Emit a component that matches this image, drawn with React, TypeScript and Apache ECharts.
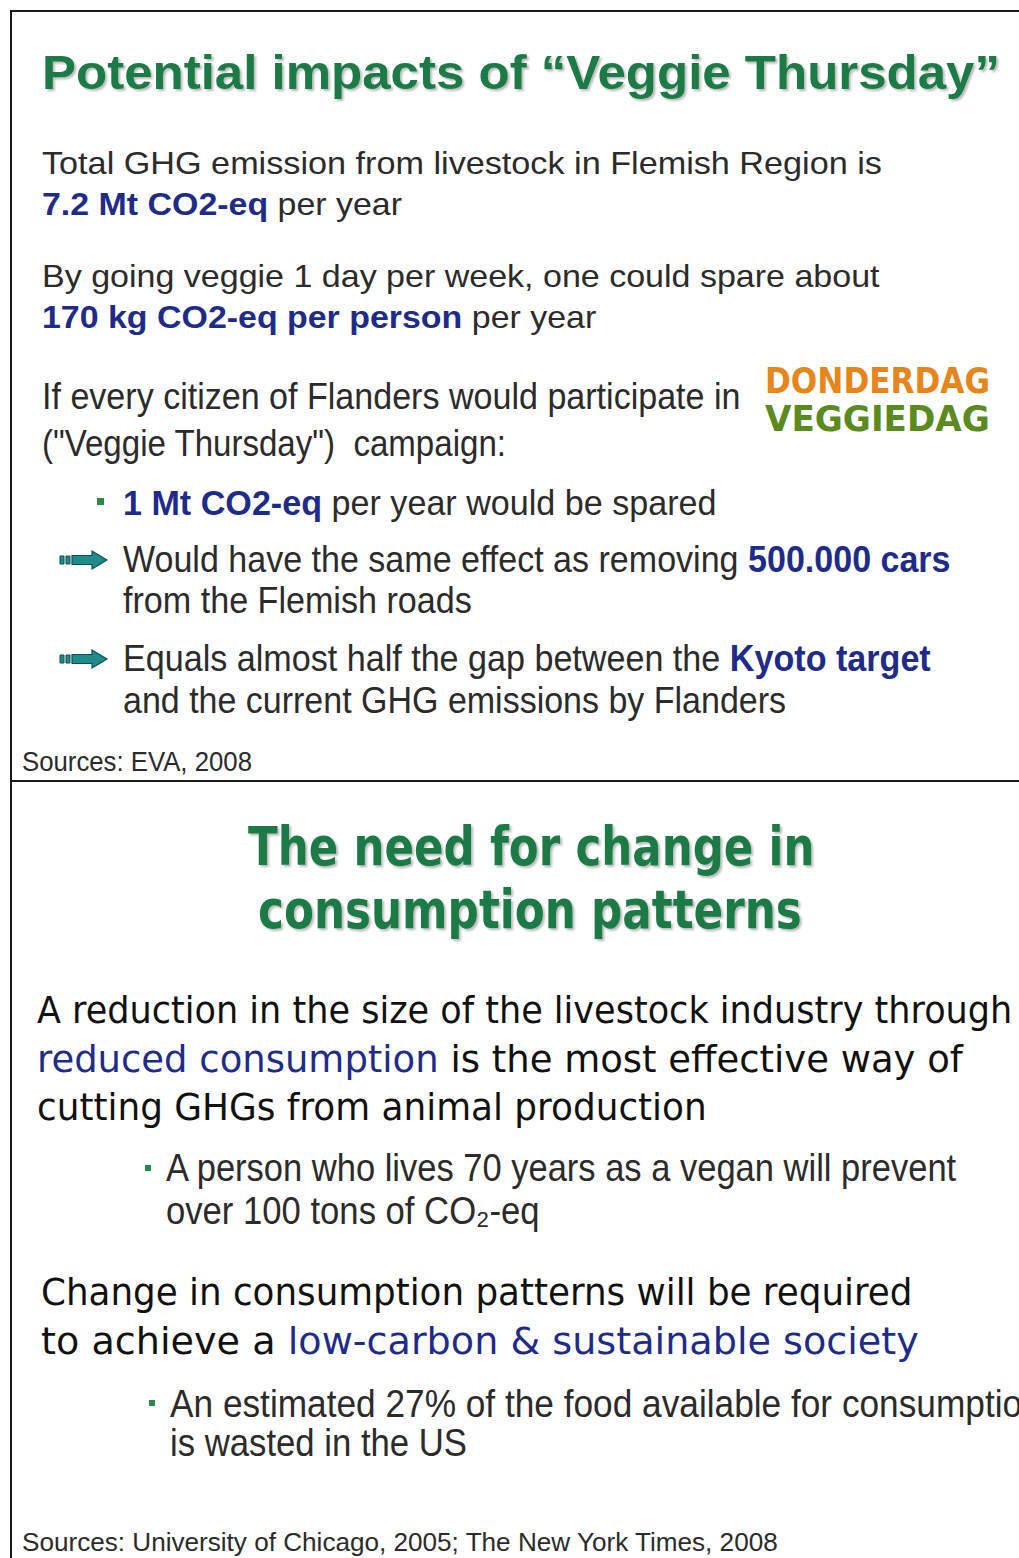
import React, { useEffect, useRef } from "react";
import * as echarts from "echarts";

const W = 1019;
const H = 1558;

const ARIAL = "'Liberation Sans', Arial, sans-serif";
const TAHOMA = "'DejaVu Sans', Verdana, sans-serif";

const GREEN = "#1d7a46";
const NAVY = "#1f2b88";
const GRAY = "#2b2b2b";
const BLACK = "#111111";

type Seg = [string, string];
interface Line {
  segs: Seg[];
  x: number;
  y: number;
  w: number;
  size: number;
  font: string;
  fit?: string;
  shadow?: boolean;
}

const STY: Record<string, { weight: string; fill: string }> = {
  t: { weight: "normal", fill: GRAY },
  b: { weight: "bold", fill: NAVY },
  k: { weight: "normal", fill: BLACK },
  n: { weight: "normal", fill: NAVY },
  g: { weight: "bold", fill: GREEN },
  o: { weight: "bold", fill: "#e5851a" },
  v: { weight: "bold", fill: "#5b8a1f" },
};

// ---- Top slide texts ----
const topTitle: Line[] = [
  { segs: [["Potential impacts of “Veggie Thursday”", "g"]], x: 42, y: 72, w: 958, size: 48, font: ARIAL, shadow: true },
];

const topBody: Line[] = [
  { segs: [["Total GHG emission from livestock in Flemish Region is", "t"]], x: 42, y: 163, w: 840, size: 32, font: ARIAL },
  { segs: [["7.2 Mt CO2-eq", "b"], [" per year", "t"]], x: 42, y: 204, w: 360, size: 32, font: ARIAL },
  { segs: [["By going veggie 1 day per week, one could spare about", "t"]], x: 42, y: 276, w: 838, size: 32, font: ARIAL },
  { segs: [["170 kg CO2-eq per person", "b"], [" per year", "t"]], x: 42, y: 317, w: 554, size: 32, font: ARIAL },
  { segs: [["If every citizen of Flanders would participate in", "t"]], x: 42, y: 397, w: 699, size: 37, font: ARIAL },
  { segs: [["(\"Veggie Thursday\")  campaign:", "t"]], x: 42, y: 443, w: 465, size: 37, font: ARIAL },
  { segs: [["1 Mt CO2-eq", "b"], [" per year would be spared", "t"]], x: 123, y: 502, w: 594, size: 36, font: ARIAL },
  { segs: [["Would have the same effect as removing ", "t"], ["500.000 cars", "b"]], x: 123, y: 560, w: 828, size: 37, font: ARIAL },
  { segs: [["from the Flemish roads", "t"]], x: 123, y: 601, w: 349, size: 37, font: ARIAL },
  { segs: [["Equals almost half the gap between the ", "t"], ["Kyoto target", "b"]], x: 123, y: 659, w: 808, size: 37, font: ARIAL },
  { segs: [["and the current GHG emissions by Flanders", "t"]], x: 123, y: 701, w: 663, size: 37, font: ARIAL },
  { segs: [["Sources: EVA, 2008", "t"]], x: 22, y: 762, w: 230, size: 27, font: ARIAL },
];

const logoLines: Line[] = [
  { segs: [["DONDERDAG", "o"]], x: 765, y: 381, w: 225, size: 35, font: TAHOMA },
  { segs: [["VEGGIEDAG", "v"]], x: 765, y: 419, w: 225, size: 35, font: TAHOMA },
];

const topBullets = [{ x: 97, y: 498, s: 7 }];
const topArrows = [{ x: 60, y: 560 }, { x: 60, y: 659 }];

// ---- Bottom slide texts ----
const bottomTitle: Line[] = [
  { segs: [["The need for change in", "g"]], x: 248, y: 846, w: 567, size: 54, font: TAHOMA, shadow: true },
  { segs: [["consumption patterns", "g"]], x: 258, y: 909, w: 544, size: 54, font: TAHOMA, shadow: true },
];

const bottomBody: Line[] = [
  { segs: [["A reduction in the size of the livestock industry through", "k"]], x: 37, y: 1010, w: 976, size: 38, font: TAHOMA },
  { segs: [["reduced consumption", "n"], [" is the most effective way of", "k"]], x: 37, y: 1059, w: 926, size: 38, font: TAHOMA },
  { segs: [["cutting GHGs from animal production", "k"]], x: 37, y: 1107, w: 670, size: 38, font: TAHOMA },
  { segs: [["A person who lives 70 years as a vegan will prevent", "t"]], x: 166, y: 1168, w: 792, size: 39, font: ARIAL },
  { segs: [["over 100 tons of CO₂-eq", "t"]], x: 166, y: 1211, w: 374, size: 39, font: ARIAL },
  { segs: [["Change in consumption patterns will be required", "k"]], x: 41, y: 1292, w: 872, size: 38, font: TAHOMA },
  { segs: [["to achieve a ", "k"], ["low-carbon & sustainable society", "n"]], x: 41, y: 1341, w: 878, size: 38, font: TAHOMA },
  { segs: [["An estimated 27% of the food available for consumption", "t"]], x: 170, y: 1403, w: 853, size: 39, font: ARIAL, fit: "An estimated 27% of the food available for consumptio" },
  { segs: [["is wasted in the US", "t"]], x: 170, y: 1443, w: 297, size: 39, font: ARIAL },
  { segs: [["Sources: University of Chicago, 2005; The New York Times, 2008", "t"]], x: 22, y: 1542, w: 758, size: 26, font: ARIAL },
];

const bottomBullets = [{ x: 145, y: 1165, s: 6 }, { x: 149, y: 1400, s: 6 }];

let ctx: CanvasRenderingContext2D | null = null;
function measure(segs: Seg[], size: number, font: string): number {
  if (!ctx) ctx = document.createElement("canvas").getContext("2d");
  let w = 0;
  for (const [s, k] of segs) {
    ctx!.font = `${STY[k].weight} ${size}px ${font}`;
    w += ctx!.measureText(s).width;
  }
  return w;
}

function textEl(line: Line): any {
  const m = line.fit ? measure([[line.fit, line.segs[0][1]]], line.size, line.font) : measure(line.segs, line.size, line.font);
  const sx = line.w / m;
  const rich: Record<string, any> = {};
  let text = "";
  for (const [s, k] of line.segs) {
    text += `{${k}|${s}}`;
    rich[k] = {
      fontSize: line.size,
      fontFamily: line.font,
      fontWeight: STY[k].weight,
      fill: STY[k].fill,
      ...(line.shadow
        ? { textShadowColor: "rgba(0,0,0,0.28)", textShadowBlur: 2, textShadowOffsetX: 2, textShadowOffsetY: 2 }
        : {}),
    };
  }
  return {
    type: "text",
    x: line.x,
    y: line.y,
    scaleX: sx,
    silent: true,
    style: {
      text,
      rich,
      fontSize: line.size,
      fontFamily: line.font,
      align: "left",
      verticalAlign: "middle",
    },
  };
}

function arrowEls(x: number, y: number): any[] {
  const stroke = "#0f4f4f";
  const fill = "#1f8b8b";
  return [
    { type: "rect", shape: { x: x, y: y - 4, width: 4, height: 8 }, style: { fill, stroke, lineWidth: 1 } },
    { type: "rect", shape: { x: x + 6, y: y - 4, width: 4, height: 8 }, style: { fill, stroke, lineWidth: 1 } },
    {
      type: "polygon",
      shape: {
        points: [
          [x + 12, y - 4.5],
          [x + 32, y - 4.5],
          [x + 32, y - 9],
          [x + 47, y],
          [x + 32, y + 9],
          [x + 32, y + 4.5],
          [x + 12, y + 4.5],
        ],
      },
      style: { fill, stroke, lineWidth: 1.2 },
    },
  ];
}

function bulletEl(b: { x: number; y: number; s: number }): any {
  return { type: "rect", shape: { x: b.x, y: b.y, width: b.s, height: b.s }, style: { fill: "#2a8a45" } };
}

export default function App() {
  const ref = useRef<HTMLDivElement>(null);
  useEffect(() => {
    if (!ref.current) return;
    const chart = echarts.init(ref.current, null, { renderer: "svg", width: W, height: H });
    const elements: any[] = [
      { type: "rect", shape: { x: 0, y: 0, width: W, height: H }, style: { fill: "#ffffff" } },
      { type: "line", shape: { x1: 11, y1: 11, x2: W, y2: 11 }, style: { stroke: "#1a1a1a", lineWidth: 2 } },
      { type: "line", shape: { x1: 11, y1: 10, x2: 11, y2: H }, style: { stroke: "#1a1a1a", lineWidth: 2 } },
      { type: "line", shape: { x1: 11, y1: 781, x2: W, y2: 781 }, style: { stroke: "#1a1a1a", lineWidth: 2 } },
    ];
    [...topTitle, ...topBody, ...logoLines, ...bottomTitle, ...bottomBody].forEach((l) => elements.push(textEl(l)));
    topBullets.forEach((b) => elements.push(bulletEl(b)));
    bottomBullets.forEach((b) => elements.push(bulletEl(b)));
    topArrows.forEach((a) => elements.push(...arrowEls(a.x, a.y)));
    chart.setOption({ animation: false, graphic: { elements } });
    return () => chart.dispose();
  }, []);
  return <div ref={ref} style={{ position: "absolute", left: 0, top: 0, width: W, height: H }} />;
}
